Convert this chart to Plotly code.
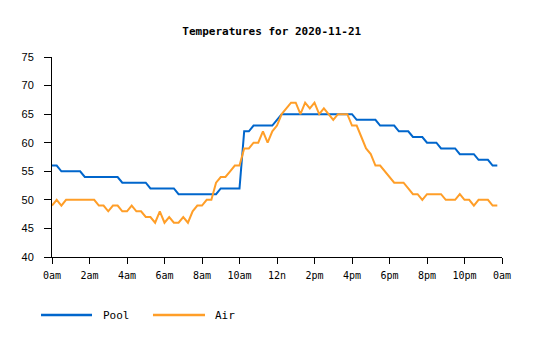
import plotly.graph_objects as go

# hours of day, sampled every 15 minutes (0 .. 23.75)
hours = [i * 0.25 for i in range(96)]

pool = [
    56, 56, 55, 55,  55, 55, 55, 54,  54, 54, 54, 54,  54, 54, 54, 53,
    53, 53, 53, 53,  53, 52, 52, 52,  52, 52, 52, 51,  51, 51, 51, 51,
    51, 51, 51, 51,  52, 52, 52, 52,  52, 62, 62, 63,  63, 63, 63, 63,
    64, 65, 65, 65,  65, 65, 65, 65,  65, 65, 65, 65,  65, 65, 65, 65,
    65, 64, 64, 64,  64, 64, 63, 63,  63, 63, 62, 62,  62, 61, 61, 61,
    60, 60, 60, 59,  59, 59, 59, 58,  58, 58, 58, 57,  57, 57, 56, 56,
]

air = [
    49, 50, 49, 50,  50, 50, 50, 50,  50, 50, 49, 49,  48, 49, 49, 48,
    48, 49, 48, 48,  47, 47, 46, 48,  46, 47, 46, 46,  47, 46, 48, 49,
    49, 50, 50, 53,  54, 54, 55, 56,  56, 59, 59, 60,  60, 62, 60, 62,
    63, 65, 66, 67,  67, 65, 67, 66,  67, 65, 66, 65,  64, 65, 65, 65,
    63, 63, 61, 59,  58, 56, 56, 55,  54, 53, 53, 53,  52, 51, 51, 50,
    51, 51, 51, 51,  50, 50, 50, 51,  50, 50, 49, 50,  50, 50, 49, 49,
]

x_tickvals = [0, 2, 4, 6, 8, 10, 12, 14, 16, 18, 20, 22, 24]
x_ticktext = ["0am", "2am", "4am", "6am", "8am", "10am", "12n",
              "2pm", "4pm", "6pm", "8pm", "10pm", "0am"]
y_tickvals = [40, 45, 50, 55, 60, 65, 70, 75]

series_names = ["Pool", "Air"]
colors = ["#0066cc", "#ff9e28"]

mono = "DejaVu Sans Mono, Liberation Mono, monospace"
sans = "Liberation Sans, Arial, sans-serif"

fig = go.Figure()
for name, vals, col in zip(series_names, [pool, air], colors):
    fig.add_trace(go.Scatter(x=hours, y=vals, mode="lines", name=name,
                             line=dict(color=col, width=2), showlegend=False))

# custom legend (lines + labels) below the plot
leg_y = -0.29
leg = [(-0.0244, 0.0889, 0.1089), (0.2244, 0.34, 0.3578)]
for (x0, x1, xt), name, col in zip(leg, series_names, colors):
    fig.add_shape(type="line", xref="paper", yref="paper", x0=x0, x1=x1,
                  y0=leg_y, y1=leg_y, line=dict(color=col, width=2.5))
    fig.add_annotation(xref="paper", yref="paper", x=xt, y=leg_y, text=name,
                       showarrow=False, xanchor="left", yanchor="middle",
                       font=dict(family=mono, size=11, color="#000"))

fig.update_layout(
    width=535, height=340,
    margin=dict(l=52, r=33, t=57, b=83),
    paper_bgcolor="white", plot_bgcolor="white",
    title=dict(text="<b>Temperatures for 2020-11-21</b>", x=0.508, xanchor="center",
               xref="container", y=0.907, yanchor="middle",
               font=dict(family=mono, size=11, color="#000")),
    font=dict(family=mono, size=10, color="#000"),
)
fig.update_xaxes(range=[0, 24], tickvals=x_tickvals, ticktext=x_ticktext,
                 showgrid=False, zeroline=False, showline=True, linecolor="#000",
                 linewidth=1, ticks="outside", ticklen=6, tickcolor="#000",
                 ticklabelstandoff=3,
                 tickfont=dict(family=mono, size=10, color="#000"))
fig.update_yaxes(range=[40, 75], tickvals=y_tickvals,
                 showgrid=False, zeroline=False, showline=True, linecolor="#000",
                 linewidth=1, ticks="outside", ticklen=7, tickcolor="#000",
                 ticklabelstandoff=8,
                 tickfont=dict(family=sans, size=11, color="#000"))

fig.write_html("out.html")
